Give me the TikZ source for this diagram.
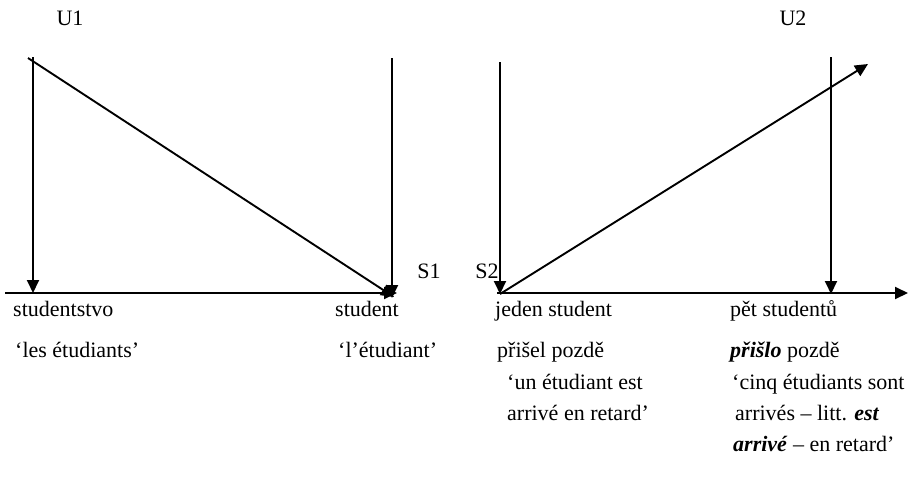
\documentclass[tikz,border=0pt]{standalone}
\usepackage{fontspec}
\setmainfont{Liberation Serif}
\usetikzlibrary{arrows.meta}
\begin{document}
\begin{tikzpicture}[x=1pt,y=-1pt,
  lbl/.style={inner sep=0pt,anchor=base west,font=\fontsize{22}{26}\selectfont},
  tag/.style={inner sep=0pt,anchor=base,font=\fontsize{22}{26}\selectfont},
  conn/.style={line width=1.9pt,-{Triangle[length=13pt,width=12pt]}},
  axis/.style={line width=1.9pt,-{Triangle[length=13pt,width=12pt]}}]
\useasboundingbox (0,0) rectangle (912,493);
% coordinates
\coordinate (a1) at (33,57);
\coordinate (a1b) at (33,293);
\coordinate (d1s) at (28,58);
\coordinate (s1) at (394,297);
\coordinate (v2t) at (392,58);
\coordinate (v2b) at (392,298);
\coordinate (ax1s) at (5,293);
\coordinate (ax1e) at (397,293);
\coordinate (v3t) at (500,62);
\coordinate (s2) at (500,294);
\coordinate (d2e) at (868,64);
\coordinate (v4t) at (831,57);
\coordinate (v4b) at (831,294);
\coordinate (ax2s) at (497,293);
\coordinate (ax2e) at (908,293);
% labels
\node[tag] (u1) at (70,25) {U1};
\node[tag] (u2) at (793,25) {U2};
\node[tag] (s1l) at (429,278) {S1};
\node[tag] (s2l) at (487,278) {S2};
% connectors
\draw[axis] (ax1s) -- (ax1e);
\draw[conn] (a1) -- (a1b);
\draw[conn] (v2t) -- (v2b);
\draw[conn] (d1s) -- (s1);
\draw[axis] (ax2s) -- (ax2e);
\draw[conn] (v3t) -- (s2);
\draw[conn] (s2) -- (d2e);
\draw[conn] (v4t) -- (v4b);
% texts
\node[lbl] (t1) at (13,316) {studentstvo};
\node[lbl] (t2) at (335,316) {student};
\node[lbl] (t3) at (15,357) {‘les étudiants’};
\node[lbl] (t4) at (338,357) {‘l’étudiant’};
\node[lbl] (t5) at (495,316) {jeden student};
\node[lbl] (t6) at (730,316) {pět studentů};
\node[lbl] (t7) at (497,357) {přišel pozdě};
\node[lbl] (t8) at (730,357) {\textbf{\textit{přišlo}} pozdě};
\node[lbl] (t9) at (507,389) {‘un étudiant est};
\node[lbl] (t10) at (732,389) {‘cinq étudiants sont};
\node[lbl] (t11) at (507,420) {arrivé en retard’};
\node[lbl] (t12) at (735,420) {arrivés – litt. \textbf{\textit{est}}};
\node[lbl] (t13) at (733,451) {\textbf{\textit{arrivé}} – en retard’};
\end{tikzpicture}
\end{document}
